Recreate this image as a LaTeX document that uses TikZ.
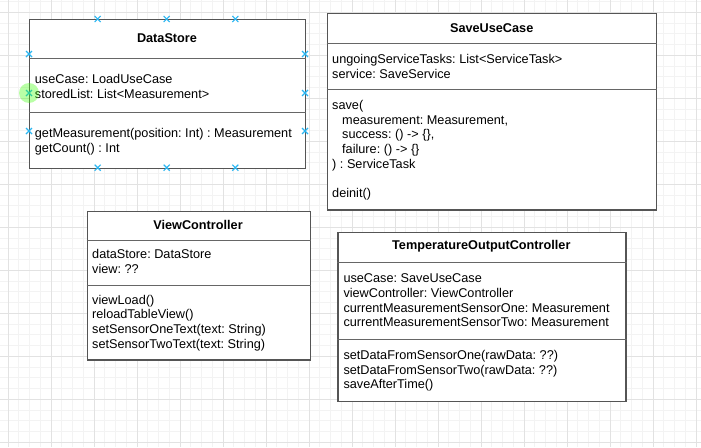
\documentclass[tikz,border=0pt]{standalone}
\usepackage{fontspec}
\setmainfont{Liberation Sans}
\frenchspacing
\definecolor{boxc}{HTML}{555555}
\definecolor{sepc}{HTML}{666666}
\definecolor{gminor}{HTML}{F3F3F3}
\definecolor{gmajor}{HTML}{E2E2E2}
\definecolor{selc}{HTML}{29B6F2}
\tikzset{
  cls/.style={draw=boxc, line width=1.4pt, fill=white, anchor=north west, inner sep=0},
  sepline/.style={draw=sepc, line width=0.9pt},
  txt/.style={anchor=base west, align=left, inner sep=0, font=\fontsize{12.7}{14.8}\selectfont, text=black},
  ttl/.style={inner sep=0, font=\bfseries\fontsize{12.7}{15}\selectfont, text=black},
  selmark/.style={draw=selc, line width=1.1pt},
}
\begin{document}
\begin{tikzpicture}[x=1pt,y=-1pt]
\useasboundingbox (0,0) rectangle (701,447);
\fill[white] (0,0) rectangle (701,447);
% grid
\foreach \i in {0,...,65} \draw[gminor, line width=0.8pt] ({-2.75+\i*10.75},0) -- ({-2.75+\i*10.75},447);
\foreach \j in {0,...,41} \draw[gminor, line width=0.8pt] (0,{1.55+\j*10.75}) -- (701,{1.55+\j*10.75});
\foreach \i in {0,...,16} \draw[gmajor, line width=0.9pt] ({8+\i*43},0) -- ({8+\i*43},447);
\foreach \j in {0,...,10} \draw[gmajor, line width=0.9pt] (0,{12.3+\j*43}) -- (701,{12.3+\j*43});

% DataStore
\node[cls, minimum width=276pt, minimum height=148.7pt] (ds) at (29,19) {};
\draw[sepline] (ds.west |- 0,58) -- (ds.east |- 0,58);
\draw[sepline] (ds.west |- 0,112.7) -- (ds.east |- 0,112.7);
\node[ttl] (dst) at (167,38.5) {DataStore};
\node[txt] (dsa) at (34.7,98) {useCase: LoadUseCase\\storedList: List<Measurement>};
\node[txt] (dsm) at (34.7,152) {getMeasurement(position: Int) : Measurement\\getCount() : Int};

% SaveUseCase
\node[cls, minimum width=329.3pt, minimum height=196.6pt] (suc) at (326.7,12.7) {};
\draw[sepline] (suc.west |- 0,43.7) -- (suc.east |- 0,43.7);
\draw[sepline] (suc.west |- 0,89.3) -- (suc.east |- 0,89.3);
\node[ttl] (suct) at (491.7,28.5) {SaveUseCase};
\node[txt] (suca) at (332,78.6) {ungoingServiceTasks: List<ServiceTask>\\service: SaveService};
\node[txt] (sucm) at (332,168.5) {save(\\\hspace*{10pt}measurement: Measurement,\\\hspace*{10pt}success: () -> \{\},\\\hspace*{10pt}failure: () -> \{\}\\) : ServiceTask};
\node[txt] (sucd) at (332,197.5) {deinit()};

% ViewController
\node[cls, minimum width=223.3pt, minimum height=148.6pt] (vc) at (86.7,210.7) {};
\draw[sepline] (vc.west |- 0,240.7) -- (vc.east |- 0,240.7);
\draw[sepline] (vc.west |- 0,285) -- (vc.east |- 0,285);
\node[ttl] (vct) at (198,224.8) {ViewController};
\node[txt] (vca) at (92,273.5) {dataStore: DataStore\\view: ??};
\node[txt] (vcm) at (92,348.5) {viewLoad()\\reloadTableView()\\setSensorOneText(text: String)\\setSensorTwoText(text: String)};

% TemperatureOutputController
\node[cls, minimum width=288pt, minimum height=169.3pt] (toc) at (337.3,231.7) {};
\draw[sepline] (toc.west |- 0,262.7) -- (toc.east |- 0,262.7);
\draw[sepline] (toc.west |- 0,339) -- (toc.east |- 0,339);
\node[ttl] (toct) at (481.3,246.5) {TemperatureOutputController};
\node[txt] (toca) at (343.3,326.8) {useCase: SaveUseCase\\viewController: ViewController\\currentMeasurementSensorOne: Measurement\\currentMeasurementSensorTwo: Measurement};
\node[txt] (tocm) at (343.3,388.8) {setDataFromSensorOne(rawData: ??)\\setDataFromSensorTwo(rawData: ??)\\saveAfterTime()};

% selection markers
\foreach \x in {97.7,166.7,235.3} {
  \draw[selmark] (\x-3,19-3) -- (\x+3,19+3) (\x-3,19+3) -- (\x+3,19-3);
  \draw[selmark] (\x-3,167.7-3) -- (\x+3,167.7+3) (\x-3,167.7+3) -- (\x+3,167.7-3);
}
\foreach \y in {54,93,131} {
  \draw[selmark] (29-3,\y-3) -- (29+3,\y+3) (29-3,\y+3) -- (29+3,\y-3);
  \draw[selmark] (305-3,\y-3) -- (305+3,\y+3) (305-3,\y+3) -- (305+3,\y-3);
}
\fill[green!70!lime, opacity=0.35] (29,93) circle (10);
\end{tikzpicture}
\end{document}
